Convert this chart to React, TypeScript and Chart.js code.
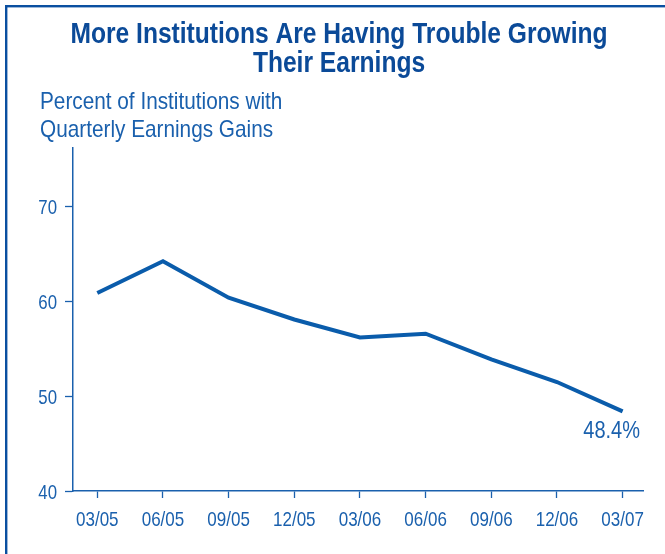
import React, { useEffect, useRef } from "react";
import { Chart, registerables } from "chart.js";

Chart.register(...registerables);

const categories = ["03/05", "06/05", "09/05", "12/05", "03/06", "06/06", "09/06", "12/06", "03/07"];
const values = [60.9, 64.25, 60.4, 58.1, 56.2, 56.6, 53.9, 51.5, 48.4];
const yTicks = [40, 50, 60, 70];
const titleLines = ["More Institutions Are Having Trouble Growing", "Their Earnings"];
const subtitleLines = ["Percent of Institutions with", "Quarterly Earnings Gains"];
const endLabel = "48.4%";

const FONT = "'Liberation Sans', Arial, sans-serif";
const TITLE_COLOR = "#0b4a98";
const TEXT_COLOR = "#1a60ad";
const LINE_COLOR = "#0a5cab";
const AXIS_COLOR = "#1a60ad";
const FRAME_COLOR = "#0a4fa0";

function drawText(ctx: any, text: string, x: number, y: number, font: string, align: string, sx: number) {
  ctx.save();
  ctx.translate(x, y);
  ctx.scale(sx, 1);
  ctx.font = font;
  ctx.textAlign = align;
  ctx.textBaseline = "alphabetic";
  ctx.fillText(text, 0, 0);
  ctx.restore();
}

const decorPlugin = {
  id: "decor",
  beforeDraw(chart: any) {
    const ctx = chart.ctx;
    ctx.save();
    ctx.fillStyle = "#ffffff";
    ctx.fillRect(0, 0, chart.width, chart.height);
    ctx.fillStyle = FRAME_COLOR;
    ctx.fillRect(5, 5, chart.width - 5, 2.4);
    ctx.fillRect(5, 5, 2.4, chart.height - 5);
    ctx.restore();
  },
  afterDraw(chart: any) {
    const ctx = chart.ctx;
    ctx.save();
    ctx.fillStyle = TITLE_COLOR;
    drawText(ctx, titleLines[0], 339, 43, `bold 30px ${FONT}`, "center", 0.82);
    drawText(ctx, titleLines[1], 339, 72, `bold 30px ${FONT}`, "center", 0.82);

    ctx.fillStyle = TEXT_COLOR;
    drawText(ctx, subtitleLines[0], 40, 109, `24px ${FONT}`, "left", 0.865);
    drawText(ctx, subtitleLines[1], 40, 137, `24px ${FONT}`, "left", 0.865);

    const xs = chart.scales.x;
    const ys = chart.scales.y;
    categories.forEach((c, i) => {
      drawText(ctx, c, xs.getPixelForValue(i), 526, `21px ${FONT}`, "center", 0.81);
    });
    yTicks.forEach((v) => {
      drawText(ctx, String(v), 57, ys.getPixelForValue(v) + 7.5, `21px ${FONT}`, "right", 0.8);
    });

    const meta = chart.getDatasetMeta(0);
    const last = meta.data[meta.data.length - 1];
    drawText(ctx, endLabel, last.x - 11, last.y + 27, `23px ${FONT}`, "center", 0.87);
    ctx.restore();
  },
};

export default function App() {
  const ref = useRef<HTMLCanvasElement | null>(null);

  useEffect(() => {
    if (!ref.current) return;
    const chart = new Chart(ref.current, {
      type: "line",
      data: {
        datasets: [
          {
            data: values.map((v, i) => ({ x: i, y: v })),
            borderColor: LINE_COLOR,
            borderWidth: 4,
            pointRadius: 0,
            borderJoinStyle: "miter",
            borderCapStyle: "butt",
            tension: 0,
            fill: false,
          },
        ],
      },
      options: {
        animation: false,
        responsive: false,
        maintainAspectRatio: false,
        layout: { padding: { top: 148, right: 22, left: 0, bottom: 0 } },
        plugins: {
          legend: { display: false },
          tooltip: { enabled: false },
          title: { display: false },
        },
        scales: {
          x: {
            type: "linear",
            min: -0.37,
            max: 8.31,
            afterBuildTicks: (scale: any) => {
              scale.ticks = categories.map((_, i) => ({ value: i }));
            },
            afterFit: (scale: any) => {
              scale.height = 63;
            },
            ticks: { display: false },
            grid: {
              drawOnChartArea: false,
              drawTicks: true,
              tickLength: 7,
              tickColor: AXIS_COLOR,
              tickWidth: 1.3,
            },
            border: { display: true, color: AXIS_COLOR, width: 1.5 },
          },
          y: {
            type: "linear",
            min: 40,
            max: 76.2,
            afterBuildTicks: (scale: any) => {
              scale.ticks = yTicks.map((v) => ({ value: v }));
            },
            afterFit: (scale: any) => {
              scale.width = 73;
            },
            ticks: { display: false },
            grid: {
              drawOnChartArea: false,
              drawTicks: true,
              tickLength: 8,
              tickColor: AXIS_COLOR,
              tickWidth: 1.3,
            },
            border: { display: true, color: AXIS_COLOR, width: 1.5 },
          },
        },
      },
      plugins: [decorPlugin],
    } as any);
    return () => chart.destroy();
  }, []);

  return (
    <div style={{ position: "absolute", left: 0, top: 0, width: 665, height: 554 }}>
      <canvas ref={ref} width={665} height={554} style={{ width: 665, height: 554, display: "block" }} />
    </div>
  );
}
